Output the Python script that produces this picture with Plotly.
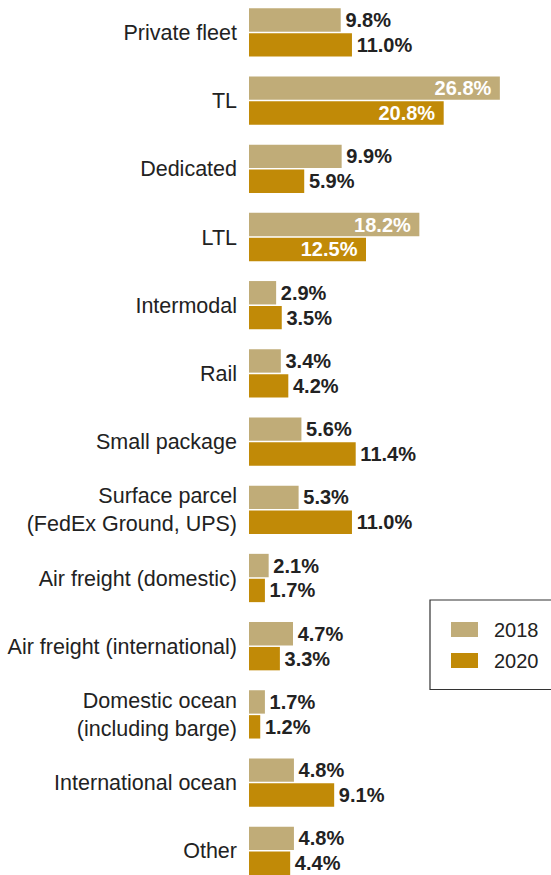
import plotly.graph_objects as go

# Share of shipments by transportation mode, 2018 vs 2020
categories = [
    "Private fleet",
    "TL",
    "Dedicated",
    "LTL",
    "Intermodal",
    "Rail",
    "Small package",
    "Surface parcel<br>(FedEx Ground, UPS)",
    "Air freight (domestic)",
    "Air freight (international)",
    "Domestic ocean<br>(including barge)",
    "International ocean",
    "Other",
]
share_2018 = [9.8, 26.8, 9.9, 18.2, 2.9, 3.4, 5.6, 5.3, 2.1, 4.7, 1.7, 4.8, 4.8]
share_2020 = [11.0, 20.8, 5.9, 12.5, 3.5, 4.2, 11.4, 11.0, 1.7, 3.3, 1.2, 9.1, 4.4]
years = ["2018", "2020"]

COLOR_2018 = "#C0AC78"
COLOR_2020 = "#C18A07"
TEXT_DARK = "#222222"
FONT = "Liberation Sans, Arial, sans-serif"

# figure geometry (pixels)
W, H = 551, 875
LEFT = 249
PLOT_W = W - LEFT
PX_PER_PCT = 9.36


def label_positions(values, threshold=12):
    # long bars carry their value inside, short bars just past the end
    return ["inside" if v > threshold else "outside" for v in values]


def label_templates(values, threshold=12):
    return ["%{x:.1f}%&nbsp;" if v > threshold else "\u200a%{x:.1f}%" for v in values]


fig = go.Figure()
for name, vals, color in [(years[0], share_2018, COLOR_2018), (years[1], share_2020, COLOR_2020)]:
    fig.add_trace(go.Bar(
        name=name,
        y=categories,
        x=vals,
        orientation="h",
        marker=dict(color=color, line=dict(width=0)),
        texttemplate=label_templates(vals),
        textposition=label_positions(vals),
        insidetextanchor="end",
        constraintext="none",
        insidetextfont=dict(color="white", size=20, family=FONT, weight="bold"),
        outsidetextfont=dict(color=TEXT_DARK, size=20, family=FONT, weight="bold"),
        cliponaxis=False,
        showlegend=False,
        hoverinfo="skip",
    ))


# legend box drawn in pixel positions converted to paper coordinates
def px_x(x):
    return (x - LEFT) / PLOT_W


def px_y(y):
    return 1 - y / H


shapes = [dict(
    type="rect", xref="paper", yref="paper",
    x0=px_x(430), x1=px_x(600), y0=px_y(600), y1=px_y(689.5),
    line=dict(color="#333333", width=1.2), fillcolor="white", layer="above",
)]
annotations = []
for i, (name, color) in enumerate([(years[0], COLOR_2018), (years[1], COLOR_2020)]):
    cy = 629.5 + 31 * i
    shapes.append(dict(
        type="rect", xref="paper", yref="paper",
        x0=px_x(451), x1=px_x(478), y0=px_y(cy - 7.5), y1=px_y(cy + 7.5),
        line=dict(width=0), fillcolor=color, layer="above",
    ))
    annotations.append(dict(
        xref="paper", yref="paper", x=px_x(492), y=px_y(cy),
        xanchor="left", yanchor="middle", showarrow=False,
        text=name, font=dict(size=20, color=TEXT_DARK, family=FONT),
    ))

fig.update_layout(
    width=W,
    height=H,
    margin=dict(l=LEFT, r=0, t=0, b=0),
    paper_bgcolor="white",
    plot_bgcolor="white",
    barmode="group",
    bargap=0.27,
    bargroupgap=0.06,
    font=dict(family=FONT, color=TEXT_DARK),
    showlegend=False,
    shapes=shapes,
    annotations=annotations,
    xaxis=dict(
        visible=False,
        range=[0, PLOT_W / PX_PER_PCT],
        fixedrange=True,
    ),
    yaxis=dict(
        type="category",
        range=[12.355, -0.475],
        showline=False,
        showgrid=False,
        zeroline=False,
        ticks="",
        ticklabelstandoff=11,
        tickfont=dict(size=21.5, color=TEXT_DARK, family=FONT),
        fixedrange=True,
    ),
)

fig.write_html("out.html")
